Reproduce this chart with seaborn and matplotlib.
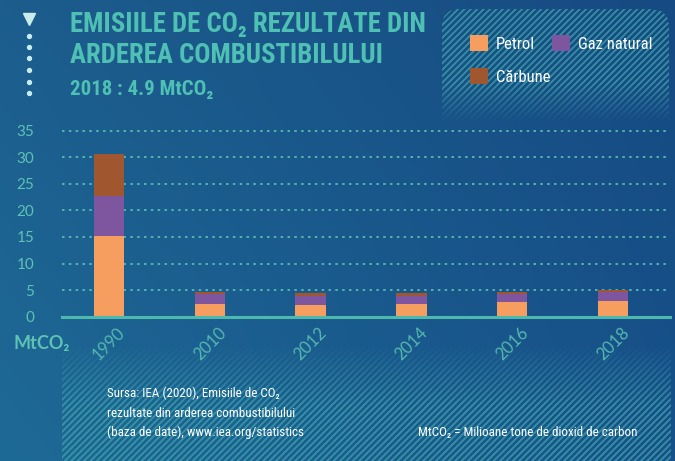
import numpy as np
import pandas as pd
import matplotlib
matplotlib.use("Agg")
import matplotlib.pyplot as plt
import matplotlib.font_manager as fm
from matplotlib.patches import Patch
import seaborn as sns

# ---------------- data ----------------
years = ["1990", "2010", "2012", "2014", "2016", "2018"]
petrol = [15.2, 2.4, 2.2, 2.4, 2.75, 2.95]
gaz_natural = [7.5, 1.9, 1.7, 1.55, 1.5, 1.65]
carbune = [8.0, 0.35, 0.55, 0.5, 0.45, 0.45]
series_labels = ["Petrol", "Gaz natural", "Cărbune"]
yticks = [0, 5, 10, 15, 20, 25, 30, 35]

COL_PETROL = "#f59e5f"
COL_GAZ = "#7e56a0"
COL_CARB = "#a0562f"
TEAL = "#5ec2b5"

# ---------------- fonts ----------------
entries = fm.fontManager.ttflist
names = {f.name for f in entries}
COND, STRETCH = None, "normal"
for c in ["Roboto Condensed", "Liberation Sans Narrow", "Open Sans Condensed",
          "Noto Sans Condensed", "Arial Narrow", "DejaVu Sans Condensed"]:
    if c in names:
        COND = c
        break
if COND is None:
    for f in entries:
        if str(f.stretch) in ("condensed", "semi-condensed", "extra-condensed", "500", "600", "700", "ultra-condensed"):
            COND, STRETCH = f.name, "condensed"
            break
if COND is None:
    COND = "Roboto"
ROUND = "Lato" if "Lato" in names else "DejaVu Sans"
cond_fam = [COND, "DejaVu Sans"]

W, H = 675, 461
fig = plt.figure(figsize=(W / 100, H / 100), dpi=100)

# ---------------- background ----------------
bg = fig.add_axes([0, 0, 1, 1], zorder=-10)
bg.set_xlim(0, W)
bg.set_ylim(H, 0)
bg.axis("off")
yy, xx = np.mgrid[0:H, 0:W].astype(float)
u = xx / W
v = yy / H
def hx(c):
    c = c.lstrip("#")
    return np.array([int(c[i:i + 2], 16) / 255 for i in (0, 2, 4)])
tl, tr, bl, br = hx("#1c5d8d"), hx("#164a82"), hx("#1e6a96"), hx("#17528a")
grad = ((1 - u)[..., None] * (1 - v)[..., None] * tl + u[..., None] * (1 - v)[..., None] * tr
        + (1 - u)[..., None] * v[..., None] * bl + u[..., None] * v[..., None] * br)
bg.imshow(grad, extent=(0, W, H, 0), aspect="auto", interpolation="bilinear", zorder=0)

# hatch pattern
P, wline = 6.4, 1.7
phase = np.mod(xx + yy, P)
dist = np.minimum(phase, P - phase)
line = np.clip(1.0 - (dist - wline / 2), 0, 1)

def rounded_mask(x0, x1, y0, y1, r):
    m = (xx >= x0) & (xx <= x1) & (yy >= y0) & (yy <= y1)
    for cx, cy, left in [(x0 + r, y0 + r, True), (x1 - r, y0 + r, False)]:
        side = (xx < cx) if left else (xx > cx)
        corner = side & (yy < cy)
        m &= ~(corner & ((xx - cx) ** 2 + (yy - cy) ** 2 > r * r))
    return m.astype(float)
leg_mask = rounded_mask(442, 668, 10, 122, 14) * np.clip((122 - yy) / 38, 0, 1)
foot_mask = ((xx >= 62) & (xx <= 670)).astype(float) * np.clip((yy - 345) / 60, 0, 1)
alpha = line * np.clip(leg_mask + foot_mask, 0, 1) * 0.75
hatch = np.zeros((H, W, 4))
hatch[..., :3] = hx("#3ea3a8")
hatch[..., 3] = alpha
bg.imshow(hatch, extent=(0, W, H, 0), aspect="auto", interpolation="nearest", zorder=1)

# decoration: triangle and dots
bg.plot([29], [19.5], marker="v", markersize=8, color="#c9ede9", zorder=3)
bg.scatter([29] * 6, [36, 47, 58, 70, 82, 93], s=8, color="#c9ede9", zorder=3)

# ---------------- main chart ----------------
ax = fig.add_axes([62 / W, 1 - 316.7 / H, (670 - 62) / W, 191.3 / H], zorder=1)
ax.patch.set_alpha(0)

df = pd.DataFrame({"year": years, "petrol": petrol, "gaz": gaz_natural, "carbune": carbune})
df["total"] = df["petrol"] + df["gaz"] + df["carbune"]
df["pg"] = df["petrol"] + df["gaz"]

sns.barplot(data=df, x="year", y="total", color=COL_CARB, width=0.3, saturation=1, ax=ax, zorder=3, linewidth=0)
sns.barplot(data=df, x="year", y="pg", color=COL_GAZ, width=0.3, saturation=1, ax=ax, zorder=4, linewidth=0)
sns.barplot(data=df, x="year", y="petrol", color=COL_PETROL, width=0.3, saturation=1, ax=ax, zorder=5, linewidth=0)

ax.set_xlim(-0.466, 5.565)
ax.set_ylim(0, 36)
ax.set_yticks(yticks)
ax.set_yticklabels([str(t) for t in yticks])
ax.set_xlabel("")
ax.set_ylabel("")
for s in ax.spines.values():
    s.set_visible(False)
for t in yticks[1:]:
    ax.axhline(t, color=TEAL, lw=1.2, linestyle=(0, (1.5, 2.6)), zorder=1)
ax.axhline(0, color="#4db8ae", lw=2.2, zorder=6, clip_on=False)

ax.tick_params(axis="both", length=0, colors=TEAL)
ax.tick_params(axis="y", pad=20, labelsize=11)
ax.tick_params(axis="x", pad=6, labelsize=12)
for lab in ax.get_yticklabels():
    lab.set_fontfamily(ROUND)
    lab.set_color(TEAL)
for lab in ax.get_xticklabels():
    lab.set_fontfamily(ROUND)
    lab.set_rotation(45)
    lab.set_ha("center")
    lab.set_color("#55b8b0")

fig.text(13 / W, 1 - 349 / H, "MtCO₂", fontsize=13, fontweight="bold", color=TEAL,
         family=[ROUND, "DejaVu Sans"], ha="left", va="baseline")

# ---------------- titles ----------------
fig.text(70 / W, 1 - 32 / H, "EMISIILE DE CO₂ REZULTATE DIN", fontsize=19.3, fontweight="bold",
         color="#4fc0b4", family=cond_fam, fontstretch=STRETCH, ha="left", va="baseline")
fig.text(70 / W, 1 - 63 / H, "ARDEREA COMBUSTIBILULUI", fontsize=19.3, fontweight="bold",
         color="#4fc0b4", family=cond_fam, fontstretch=STRETCH, ha="left", va="baseline")
fig.text(70 / W, 1 - 95 / H, "2018 : 4.9 MtCO₂", fontsize=15, fontweight="bold",
         color="#4fc0b4", family=cond_fam, fontstretch=STRETCH, ha="left", va="baseline")

# ---------------- legend ----------------
handles = [Patch(facecolor=COL_PETROL, label=series_labels[0]),
           Patch(facecolor=COL_CARB, label=series_labels[2]),
           Patch(facecolor=COL_GAZ, label=series_labels[1])]
leg = fig.legend(handles=handles, loc="upper left", bbox_to_anchor=(470 / W, 1 - 35 / H),
                 ncol=2, frameon=False, borderpad=0, borderaxespad=0,
                 handlelength=1.08, handleheight=1.08,
                 handletextpad=0.48, columnspacing=0.1, labelspacing=1.0,
                 prop=fm.FontProperties(family=cond_fam, size=12, stretch=STRETCH))
for t in leg.get_texts():
    t.set_color("white")

# ---------------- footer ----------------
foot_kw = dict(fontsize=9.4, color="white", family=cond_fam, fontstretch=STRETCH, ha="left", va="baseline")
fig.text(107 / W, 1 - 397 / H, "Sursa: IEA (2020), Emisiile de CO₂", **foot_kw)
fig.text(107 / W, 1 - 417 / H, "rezultate din arderea combustibilului", **foot_kw)
fig.text(107 / W, 1 - 436 / H, "(baza de date), www.iea.org/statistics", **foot_kw)
fig.text(418 / W, 1 - 436 / H, "MtCO₂ = Milioane tone de dioxid de carbon", **foot_kw)

fig.savefig("out.png", dpi=100)
